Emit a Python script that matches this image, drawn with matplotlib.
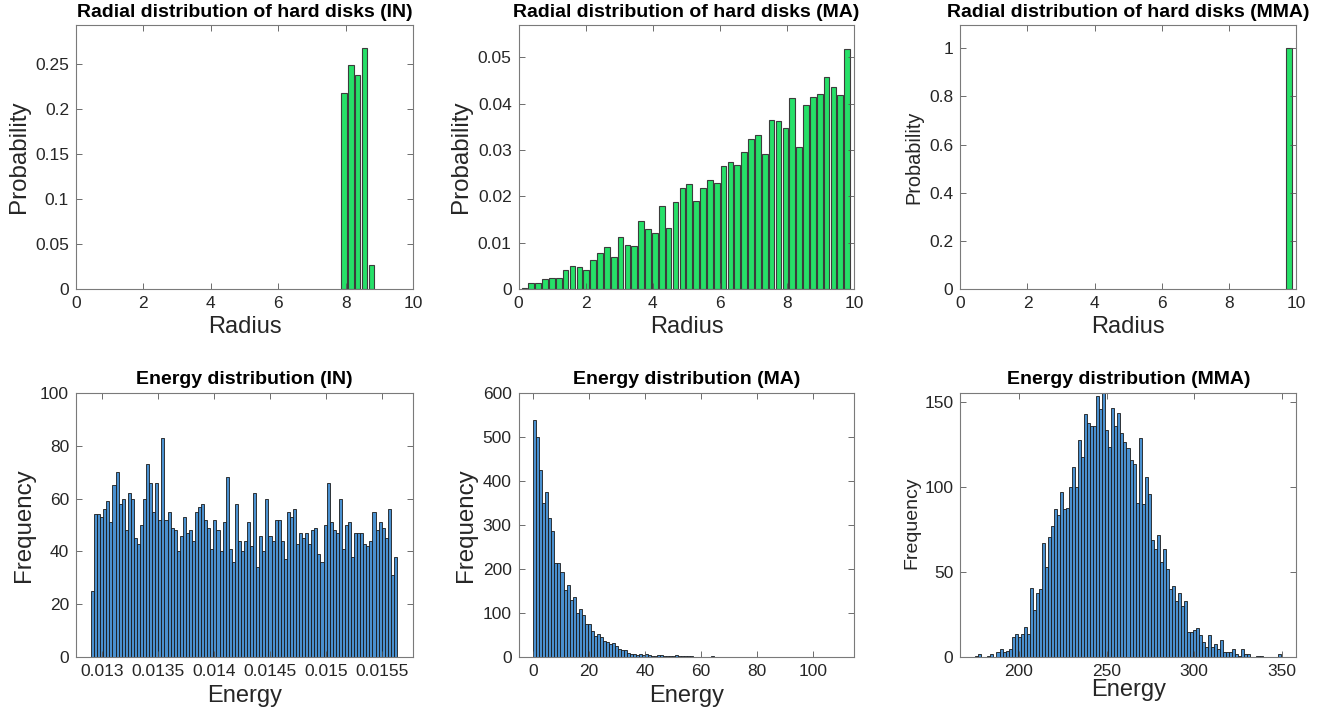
import numpy as np
import matplotlib.pyplot as plt
from matplotlib.ticker import FuncFormatter

plt.rcParams['font.family'] = ['Liberation Sans', 'DejaVu Sans']

# radial histograms: 48 bins over the disk radius
radius_edges = np.linspace(0.07, 9.89, 49)
prob_in = [0] * 38 + [0.217, 0.2485, 0.2378, 0.2674, 0.0267] + [0] * 5
prob_ma = [0.0002, 0.0013, 0.0013, 0.0021, 0.0023, 0.0023, 0.0040, 0.0050, 0.0047, 0.0042,
           0.0062, 0.0077, 0.0091, 0.0070, 0.0112, 0.0096, 0.0092, 0.0146, 0.0130, 0.0120,
           0.0180, 0.0131, 0.0188, 0.0219, 0.0226, 0.0191, 0.0219, 0.0236, 0.0229, 0.0265,
           0.0274, 0.0267, 0.0295, 0.0324, 0.0333, 0.0291, 0.0364, 0.0362, 0.0348, 0.0412,
           0.0306, 0.0398, 0.0415, 0.0420, 0.0458, 0.0435, 0.0419, 0.0519]
prob_mma = [0] * 47 + [1.0]

# energy histograms (counts per bin)
energy_edges_in = np.linspace(0.012905, 0.015634, 101)
counts_in = [25, 54, 54, 53, 56, 59, 51, 65, 70, 58, 60, 48, 62, 60, 45, 43, 50, 60, 73, 66,
             55, 66, 52, 83, 52, 55, 49, 48, 40, 46, 53, 47, 48, 44, 55, 57, 58, 52, 49, 41,
             52, 48, 40, 51, 68, 41, 36, 58, 44, 40, 44,
             51, 42, 62, 34, 46, 40, 60, 46, 44, 52, 52, 44, 37, 55, 53, 56, 43, 47, 45, 47,
             43, 48, 49, 39, 36, 50, 66, 51, 48, 47, 60, 41, 50, 51, 38, 47, 47, 47, 43, 42,
             44, 55, 48, 51, 49, 45, 56, 31, 38]

energy_edges_ma = np.linspace(0, 109.1, 102)
counts_ma = ([539, 500, 424, 351, 376, 315, 286, 215, 213, 193, 152, 165, 130, 136, 100, 109,
              95, 76, 76, 59, 49, 52, 45, 36, 35, 31, 32, 26, 19, 16, 17, 10, 7, 8, 6, 7, 5,
              7, 5, 4, 4]
             + [6, 5, 4, 3, 4, 3, 5, 3, 3, 4, 2, 2]
             + [1, 0, 0, 1, 0, 0, 2, 1, 0, 0, 0, 1, 0, 0, 0, 0, 0, 1, 0, 0, 1]
             + [0] * 18 + [1] + [0] * 6 + [1, 1])

energy_edges_mma = np.linspace(175.1, 349.3, 102)
counts_mma = [1, 2, 0, 0, 1, 2, 0, 3, 5, 3, 4, 5, 12, 14, 12, 14, 18, 14, 41, 28,
              38, 40, 67, 53, 71, 77, 87, 84, 97, 87, 88, 100, 112, 100, 128, 118, 143, 138,
              136, 136, 154, 146, 157, 134, 124,
              147, 136, 144, 132, 127, 123, 116, 114, 91, 129, 90, 106, 96, 69, 64, 72, 56,
              64, 52, 40, 42, 33, 38, 30, 33, 15, 15, 16, 17, 13, 9, 6, 13, 6, 8, 5, 10, 3,
              3, 3, 5, 2, 1, 5, 2, 2, 0, 0, 1, 1, 0, 0, 0, 0, 0, 2]

GREEN = '#26E068'
BLUE = '#4A90CF'
TXT = '#262626'

fig = plt.figure(figsize=(13.43, 7.21), dpi=100)

cols = [0.0566, 0.3862, 0.7150]
widths = [0.2509, 0.2499, 0.2502]


def style(ax):
    for s in ax.spines.values():
        s.set_color('#7a7a7a')
        s.set_linewidth(0.8)
    ax.tick_params(direction='in', length=4, width=0.6, color='#555555',
                   top=True, right=True, labelsize=12.5, labelcolor=TXT, pad=5)
    ax.yaxis.set_major_formatter(FuncFormatter(lambda v, p: '%g' % round(v, 6)))
    ax.xaxis.set_major_formatter(FuncFormatter(lambda v, p: '%g' % round(v, 6)))


def radial(i, probs, title, ytop, yticks, lab_size):
    ax = fig.add_axes([cols[i], 0.5992, widths[i], 0.3662])
    centers = (radius_edges[:-1] + radius_edges[1:]) / 2
    p = np.array(probs)
    m = p > 0
    ax.bar(centers[m], p[m], width=0.168, color=GREEN, edgecolor='#3c3c3c', linewidth=0.8)
    ax.set_xlim(0, 10)
    ax.set_ylim(0, ytop)
    ax.set_xticks([0, 2, 4, 6, 8, 10])
    ax.set_yticks(yticks)
    style(ax)
    ax.set_title(title, fontsize=14, fontweight='bold', pad=6)
    ax.set_xlabel('Radius', fontsize=17, color=TXT)
    ax.set_ylabel('Probability', fontsize=lab_size, color=TXT)
    return ax


def energy(i, edges, counts, title, xlim, xticks, ytop, yticks, lab_size):
    ax = fig.add_axes([cols[i], 0.0883, widths[i], 0.3670])
    c = np.array(counts)
    m = c > 0
    left = edges[:-1]
    w = np.diff(edges)
    ax.bar(left[m], c[m], width=w[m], align='edge', color=BLUE,
           edgecolor='#1a1a1a', linewidth=0.6)
    ax.set_xlim(*xlim)
    ax.set_ylim(0, ytop)
    ax.set_xticks(xticks)
    ax.set_yticks(yticks)
    style(ax)
    ax.set_title(title, fontsize=14, fontweight='bold', pad=6)
    ax.set_xlabel('Energy', fontsize=17, color=TXT)
    ax.set_ylabel('Frequency', fontsize=lab_size, color=TXT)
    return ax


radial(0, prob_in, 'Radial distribution of hard disks (IN)', 0.293,
       [0, 0.05, 0.1, 0.15, 0.2, 0.25], 17.4)
radial(1, prob_ma, 'Radial distribution of hard disks (MA)', 0.057,
       [0, 0.01, 0.02, 0.03, 0.04, 0.05], 17.4)
radial(2, prob_mma, 'Radial distribution of hard disks (MMA)', 1.097,
       [0, 0.2, 0.4, 0.6, 0.8, 1], 14.3)

energy(0, energy_edges_in, counts_in, 'Energy distribution (IN)',
       (0.012771, 0.015777), [0.013, 0.0135, 0.014, 0.0145, 0.015, 0.0155],
       100, [0, 20, 40, 60, 80, 100], 17.4)
energy(1, energy_edges_ma, counts_ma, 'Energy distribution (MA)',
       (-5.25, 114.9), [0, 20, 40, 60, 80, 100],
       600, [0, 100, 200, 300, 400, 500, 600], 17.4)
ax = energy(2, energy_edges_mma, counts_mma, 'Energy distribution (MMA)',
            (166.5, 358.2), [200, 250, 300, 350],
            155.7, [0, 50, 100, 150], 14.0)
# label sits tight against the tick labels here
ax.yaxis.set_label_coords(-0.118, 0.51)
ax.xaxis.labelpad = 0

fig.savefig('out.png', dpi=100)
